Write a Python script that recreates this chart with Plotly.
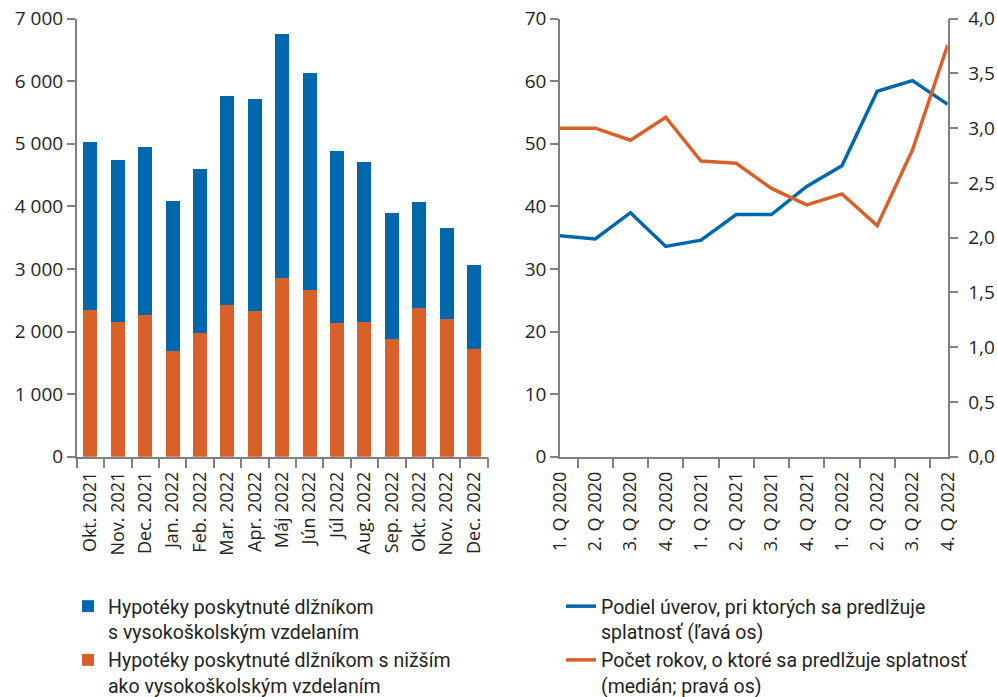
import plotly.graph_objects as go

months = ["Okt. 2021", "Nov. 2021", "Dec. 2021", "Jan. 2022", "Feb. 2022", "Mar. 2022",
          "Apr. 2022", "Máj 2022", "Jún 2022", "Júl 2022", "Aug. 2022", "Sep. 2022",
          "Okt. 2022", "Nov. 2022", "Dec. 2022"]
lower_edu = [2349, 2152, 2259, 1689, 1982, 2419, 2333, 2861, 2658, 2136, 2147, 1875, 2371, 2195, 1715]
higher_edu = [2675, 2595, 2690, 2392, 2616, 3351, 3384, 3894, 3479, 2755, 2563, 2019, 1705, 1460, 1343]

quarters = ["1. Q 2020", "2. Q 2020", "3. Q 2020", "4. Q 2020", "1. Q 2021", "2. Q 2021",
            "3. Q 2021", "4. Q 2021", "1. Q 2022", "2. Q 2022", "3. Q 2022", "4. Q 2022"]
share_extended = [35.3, 34.8, 39.0, 33.6, 34.6, 38.7, 38.7, 43.2, 46.5, 58.4, 60.1, 56.3]
years_extended = [3.00, 3.00, 2.89, 3.10, 2.70, 2.68, 2.45, 2.30, 2.40, 2.11, 2.80, 3.76]

BLUE = "#0067AC"
ORANGE = "#D8612A"
AX = "#808080"
TXT = "#231F20"
FONT = "Open Sans"
LFONT = "Liberation Sans Narrow, Roboto, sans-serif"

W, H = 997, 697
def px_x(v):
    return v / W
def px_y(v):
    return 1 - v / H

fig = go.Figure()
fig.add_trace(go.Bar(x=months, y=lower_edu, marker_color=ORANGE, marker_line_width=0,
                     name="Hypotéky poskytnuté dlžníkom s nižším<br>ako vysokoškolským vzdelaním",
                     xaxis="x", yaxis="y", legend="legend"))
fig.add_trace(go.Bar(x=months, y=higher_edu, marker_color=BLUE, marker_line_width=0,
                     name="Hypotéky poskytnuté dlžníkom<br>s vysokoškolským vzdelaním",
                     xaxis="x", yaxis="y", legend="legend"))
fig.add_trace(go.Scatter(x=quarters, y=share_extended, mode="lines",
                         line=dict(color=BLUE, width=3.5),
                         name="Podiel úverov, pri ktorých sa predlžuje<br>splatnosť (ľavá os)",
                         xaxis="x2", yaxis="y2", legend="legend2"))
fig.add_trace(go.Scatter(x=quarters, y=years_extended, mode="lines",
                         line=dict(color=ORANGE, width=3.5),
                         name="Počet rokov, o ktoré sa predlžuje splatnosť<br>(medián; pravá os)",
                         xaxis="x2", yaxis="y3", legend="legend2"))

ydom = [px_y(456.7), px_y(18.7)]
base = dict(showline=True, linecolor=AX, linewidth=1.5, ticks="outside",
            tickcolor=AX, tickwidth=1.5, showgrid=False, zeroline=False,
            automargin=False)
yfont = dict(family=FONT, size=19, color=TXT)
xfont = dict(family=FONT, size=18, color=TXT)

fig.update_layout(
    width=W, height=H,
    margin=dict(l=0, r=0, t=0, b=0, autoexpand=False),
    paper_bgcolor="white", plot_bgcolor="white",
    separators=", ",
    barmode="stack", bargap=0.49,
    font=dict(family=FONT, color=TXT),
    xaxis=dict(domain=[px_x(76.7), px_x(487.7)], anchor="y", tickangle=-90,
               tickson="boundaries", ticklen=10, ticklabelstandoff=6,
               tickfont=xfont, **base),
    yaxis=dict(domain=ydom, anchor="x", range=[0, 7000], dtick=1000, tickformat=",d",
               ticklen=8, tickfont=yfont, **base),
    xaxis2=dict(domain=[px_x(560), px_x(947.7)], anchor="y2", tickangle=-90,
                tickson="boundaries", ticklen=10, ticklabelstandoff=6,
                tickfont=xfont, **base),
    yaxis2=dict(domain=ydom, anchor="x2", range=[0, 70], dtick=10, ticklen=8,
                tickfont=yfont, **base),
    yaxis3=dict(domain=ydom, anchor="x2", overlaying="y2", side="right",
                range=[0, 4], dtick=0.5, tickformat=".1f", ticklen=9,
                ticklabelstandoff=6, tickfont=yfont, **base),
    legend=dict(x=px_x(68), y=px_y(587), xanchor="left", yanchor="top",
                traceorder="reversed", valign="top", bgcolor="rgba(0,0,0,0)",
                font=dict(family=LFONT, size=19.5, color=TXT), tracegroupgap=2),
    legend2=dict(x=px_x(561), y=px_y(587), xanchor="left", yanchor="top",
                 traceorder="normal", valign="top", bgcolor="rgba(0,0,0,0)",
                 font=dict(family=LFONT, size=19.5, color=TXT), tracegroupgap=2),
    showlegend=True,
)

fig.write_html("out.html", config={"displayModeBar": False},
               post_script="document.body.style.margin='0px';")
